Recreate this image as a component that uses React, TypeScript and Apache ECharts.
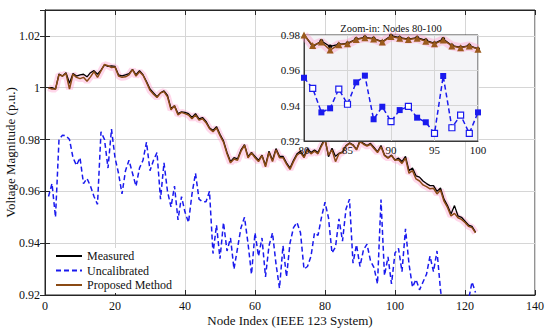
import React, { useEffect, useRef } from "react";
import * as echarts from "echarts";

const nodes: number[] = Array.from({ length: 123 }, (_, i) => i + 1);

const measured: number[] = [
  1.000, 1.000, 0.9995, 1.0053, 1.0045, 1.0058, 1.0017, 1.0055, 1.0045, 1.005,
  1.0052, 1.0042, 1.0058, 1.0066, 1.0052, 1.0068, 1.0088, 1.0082, 1.0084, 1.0082,
  1.005, 1.0046, 1.005, 1.0054, 1.0071, 1.005, 1.0066, 1.005, 1.0024, 0.9995,
  0.998, 0.9965, 0.998, 0.9988, 0.997, 0.992, 0.993, 0.990, 0.9907, 0.9905,
  0.990, 0.9885, 0.990, 0.988, 0.9885, 0.987, 0.9845, 0.9835, 0.985, 0.982,
  0.9795, 0.975, 0.9715, 0.973, 0.9725, 0.976, 0.978, 0.9735, 0.975, 0.9735,
  0.972, 0.974, 0.970, 0.9755, 0.972, 0.9765, 0.9735, 0.9735, 0.971, 0.969,
  0.972, 0.9745, 0.9755, 0.9735, 0.9765, 0.975, 0.976, 0.975, 0.978, 0.9804,
  0.9734, 0.9766, 0.9735, 0.9747, 0.9753, 0.9777, 0.9787, 0.978, 0.9762, 0.9796,
  0.9785, 0.9777, 0.9785, 0.977, 0.9753, 0.9777, 0.974, 0.973, 0.974, 0.9721,
  0.9728, 0.9715, 0.9735, 0.968, 0.969, 0.966, 0.9655, 0.964, 0.963, 0.9622,
  0.9622, 0.960, 0.9613, 0.957, 0.9545, 0.9513, 0.9545, 0.9505, 0.950, 0.9485,
  0.947, 0.9465, 0.9443,
];

const proposed: number[] = [
  1.000, 0.9995, 0.9995, 1.005, 1.0045, 1.0055, 0.9995, 1.0052, 1.004, 1.0035,
  1.004, 1.0025, 1.0042, 1.0062, 1.004, 1.0065, 1.009, 1.0085, 1.0078, 1.008,
  1.0045, 1.004, 1.0042, 1.005, 1.007, 1.0045, 1.0062, 1.0048, 1.002, 0.999,
  0.9975, 0.9962, 0.998, 0.9985, 0.9965, 0.9915, 0.993, 0.9895, 0.9905, 0.990,
  0.9895, 0.988, 0.9895, 0.9875, 0.988, 0.9865, 0.9842, 0.983, 0.9845, 0.9815,
  0.979, 0.9745, 0.971, 0.9725, 0.972, 0.9755, 0.9778, 0.973, 0.9748, 0.973,
  0.9715, 0.9738, 0.9695, 0.975, 0.9715, 0.976, 0.973, 0.973, 0.9705, 0.9685,
  0.9715, 0.974, 0.975, 0.973, 0.976, 0.9745, 0.9755, 0.9745, 0.9775, 0.980,
  0.974, 0.976, 0.9715, 0.9745, 0.975, 0.9775, 0.9785, 0.9778, 0.976, 0.9792,
  0.9782, 0.9775, 0.9782, 0.9765, 0.975, 0.9772, 0.9738, 0.9728, 0.9738, 0.972,
  0.9722, 0.9708, 0.9728, 0.967, 0.968, 0.9648, 0.964, 0.9625, 0.9618, 0.961,
  0.9612, 0.959, 0.9605, 0.9562, 0.9538, 0.9505, 0.9515, 0.9498, 0.9492, 0.948,
  0.9465, 0.946, 0.944,
];

const uncalibrated: number[] = [
  0.958, 0.963, 0.950, 0.980, 0.9817, 0.9815, 0.980, 0.973, 0.970, 0.973,
  0.963, 0.965, 0.962, 0.958, 0.955, 0.983, 0.980, 0.969, 0.984, 0.973,
  0.967, 0.959, 0.968, 0.972, 0.967, 0.962, 0.969, 0.972, 0.979, 0.968,
  0.972, 0.975, 0.957, 0.971, 0.960, 0.954, 0.962, 0.949, 0.958, 0.952,
  0.948, 0.959, 0.967, 0.957, 0.956, 0.956, 0.960, 0.936, 0.947, 0.934,
  0.948, 0.937, 0.942, 0.930, 0.938, 0.946, 0.950, 0.940, 0.928, 0.944,
  0.935, 0.942, 0.927, 0.939, 0.944, 0.932, 0.9226, 0.939, 0.927, 0.940,
  0.946, 0.948, 0.944, 0.930, 0.931, 0.935, 0.944, 0.943, 0.950, 0.9558,
  0.9498, 0.9362, 0.9385, 0.9494, 0.9408, 0.9532, 0.957, 0.9323, 0.9394, 0.931,
  0.9375, 0.9396, 0.9332, 0.9306, 0.9243, 0.9568, 0.9275, 0.9347, 0.9243, 0.9362,
  0.938, 0.929, 0.9455, 0.932, 0.923, 0.926, 0.922, 0.925, 0.928, 0.935,
  0.929, 0.937, 0.922, 0.912, 0.908, 0.914, 0.905, 0.911, 0.909, 0.915,
  0.918, 0.925, 0.921,
];

const xTicks = { min: 0, max: 140, interval: 20 };
const yTicks = { min: 0.92, max: 1.03, interval: 0.02 };
const insetRange = { from: 80, to: 100 };
const insetY = { min: 0.92, max: 0.98, interval: 0.02 };
const hollowNodes: number[] = [81, 84, 85, 90, 92, 95, 97, 98, 99];

const FONT = "'Liberation Serif', 'Times New Roman', serif";
const BLUE = "#1a1aee";
const BROWN = "#8a4a14";
const PINK = "rgba(255,150,200,0.38)";

export default function App() {
  const ref = useRef<HTMLDivElement>(null);
  useEffect(() => {
    if (!ref.current) return;
    const chart = echarts.init(ref.current, undefined, { renderer: "svg" });
    const pairs = (arr: number[]) => nodes.map((n, i) => [n, arr[i]]);
    const inset = (arr: number[]) =>
      nodes
        .map((n, i) => [n, arr[i]])
        .filter((p) => p[0] >= insetRange.from && p[0] <= insetRange.to);
    const insetUncal = inset(uncalibrated).map((p) => ({
      value: p,
      itemStyle: hollowNodes.includes(p[0])
        ? { color: "#ffffff", borderColor: BLUE, borderWidth: 1.2 }
        : { color: BLUE },
    }));
    const fmt = (v: number) => String(Number(v.toFixed(2)));

    chart.setOption({
      animation: false,
      textStyle: { fontFamily: FONT },
      grid: [
        {
          left: 45, right: 15, top: 10, bottom: 37, outerBoundsMode: "none", containLabel: false,
          show: true, borderColor: "#262626", borderWidth: 1,
          backgroundColor: "#ffffff",
        },
        {
          left: 304, top: 35, width: 174, height: 106, z: 5, outerBoundsMode: "none", containLabel: false,
          show: true, borderColor: "#3a3a3a", borderWidth: 1,
          backgroundColor: "#f4f4f7",
        },
      ],
      legend: {
        data: ["Measured", "Uncalibrated", "Proposed Method"],
        orient: "vertical",
        left: 51, top: 248,
        itemWidth: 26, itemHeight: 10, itemGap: 2.5,
        padding: [2, 4, 2, 4],
        backgroundColor: "#ffffff",
        itemStyle: { opacity: 0 },
        textStyle: { fontFamily: FONT, fontSize: 12, color: "#111" },
        z: 20,
      },
      graphic: [
        {
          type: "text", x: 391, y: 28, z: 30,
          style: {
            text: "Zoom-in: Nodes 80-100", fontFamily: FONT, fontSize: 10.5,
            fill: "#111", textAlign: "center", textVerticalAlign: "middle",
          },
        },
      ],
      xAxis: [
        {
          type: "value", gridIndex: 0, ...xTicks,
          name: "Node Index (IEEE 123 System)", nameLocation: "middle", nameGap: 19,
          nameMoveOverlap: false,
          nameTextStyle: { fontFamily: FONT, fontSize: 13, color: "#111" },
          axisLine: { lineStyle: { color: "#262626" } },
          axisTick: { inside: true, length: 5, lineStyle: { color: "#262626" } },
          axisLabel: { fontFamily: FONT, fontSize: 12, color: "#111", margin: 5 },
          splitLine: { show: true, lineStyle: { color: "#d6d6d6" } },
        },
        {
          type: "value", gridIndex: 0, position: "top", ...xTicks,
          axisLine: { lineStyle: { color: "#262626" } },
          axisTick: { inside: true, length: 5, lineStyle: { color: "#262626" } },
          axisLabel: { show: false }, splitLine: { show: false },
        },
        {
          type: "value", gridIndex: 1, min: insetRange.from, max: insetRange.to, interval: 5, z: 6,
          axisLine: { lineStyle: { color: "#3a3a3a" } },
          axisTick: { show: false },
          axisLabel: { fontFamily: FONT, fontSize: 11, color: "#111", margin: 3 },
          splitLine: { show: true, lineStyle: { color: "#d6d6d6" } },
        },
      ],
      yAxis: [
        {
          type: "value", gridIndex: 0, ...yTicks,
          name: "Voltage Magnitude (p.u.)", nameLocation: "middle", nameGap: 28,
          nameMoveOverlap: false,
          nameTextStyle: { fontFamily: FONT, fontSize: 13, color: "#111" },
          axisLine: { show: true, lineStyle: { color: "#262626" } },
          axisTick: { show: true, inside: true, length: 5, lineStyle: { color: "#262626" } },
          axisLabel: { fontFamily: FONT, fontSize: 12, color: "#111", margin: 5, formatter: fmt, showMaxLabel: false },
          splitLine: { show: true, lineStyle: { color: "#d6d6d6" } },
        },
        {
          type: "value", gridIndex: 0, position: "right", ...yTicks,
          axisLine: { show: true, lineStyle: { color: "#262626" } },
          axisTick: { show: true, inside: true, length: 5, lineStyle: { color: "#262626" } },
          axisLabel: { show: false }, splitLine: { show: false },
        },
        {
          type: "value", gridIndex: 1, ...insetY, z: 6,
          axisLine: { show: true, lineStyle: { color: "#3a3a3a" } },
          axisTick: { show: false },
          axisLabel: { fontFamily: FONT, fontSize: 11, color: "#111", margin: 4, formatter: fmt },
          splitLine: { show: true, lineStyle: { color: "#d6d6d6" } },
        },
      ],
      series: [
        {
          name: "Measured", type: "line", xAxisIndex: 0, yAxisIndex: 0, z: 3,
          data: pairs(measured), symbol: "none",
          lineStyle: { color: "#000000", width: 1.3 }, itemStyle: { color: "#000000" },
        },
        {
          name: "Uncalibrated", type: "line", xAxisIndex: 0, yAxisIndex: 0, z: 2,
          data: pairs(uncalibrated), symbol: "none",
          lineStyle: { color: BLUE, width: 1.5, type: [5, 3] }, itemStyle: { color: BLUE },
        },
        {
          name: "Proposed Method", type: "line", xAxisIndex: 0, yAxisIndex: 0, z: 4,
          data: pairs(proposed), symbol: "none",
          lineStyle: { color: BROWN, width: 1.5 }, itemStyle: { color: BROWN },
        },
        {
          type: "line", xAxisIndex: 0, yAxisIndex: 0, z: 1, silent: true,
          data: pairs(proposed), symbol: "none",
          lineStyle: { color: PINK, width: 7 },
        },
        // inset
        {
          type: "line", xAxisIndex: 2, yAxisIndex: 2, z: 7, silent: true,
          data: inset(proposed), symbol: "none",
          lineStyle: { color: PINK, width: 9 },
        },
        {
          type: "line", xAxisIndex: 2, yAxisIndex: 2, z: 8, silent: true,
          data: insetUncal, symbol: "rect", symbolSize: 6,
          lineStyle: { color: BLUE, width: 1.5, type: [5, 3] }, itemStyle: { color: BLUE },
        },
        {
          type: "line", xAxisIndex: 2, yAxisIndex: 2, z: 9, silent: true,
          data: inset(measured), symbol: "circle", symbolSize: 4,
          lineStyle: { color: "#000000", width: 1.3 }, itemStyle: { color: "#000000" },
        },
        {
          type: "line", xAxisIndex: 2, yAxisIndex: 2, z: 10, silent: true,
          data: inset(proposed), symbol: "triangle", symbolSize: 7,
          lineStyle: { color: BROWN, width: 1.5 }, itemStyle: { color: "#9a5a1c" },
        },
      ],
    });
    return () => chart.dispose();
  }, []);
  return (
    <div
      ref={ref}
      style={{ position: "fixed", left: 0, top: 0, width: 550, height: 332, background: "#fff" }}
    />
  );
}
